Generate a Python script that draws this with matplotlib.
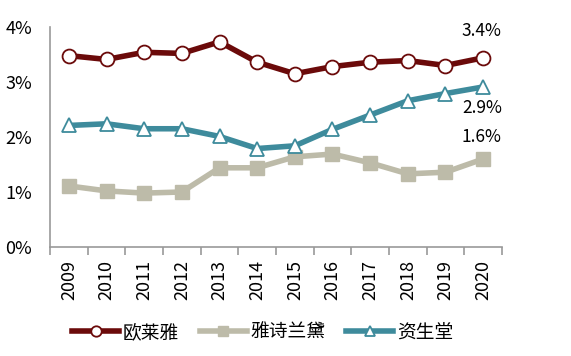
import matplotlib.pyplot as plt
import numpy as np
from matplotlib.ticker import FuncFormatter

plt.rcParams['font.family'] = ['Noto Sans CJK SC', 'DejaVu Sans']

years = ['2009', '2010', '2011', '2012', '2013', '2014',
         '2015', '2016', '2017', '2018', '2019', '2020']
loreal = [3.48, 3.41, 3.54, 3.52, 3.73, 3.36, 3.15, 3.28, 3.36, 3.39, 3.30, 3.44]
estee = [1.11, 1.02, 0.98, 1.00, 1.44, 1.44, 1.64, 1.69, 1.53, 1.33, 1.36, 1.60]
shiseido = [2.21, 2.24, 2.15, 2.15, 2.01, 1.79, 1.84, 2.14, 2.40, 2.66, 2.79, 2.91]
names = ['欧莱雅', '雅诗兰黛', '资生堂']
end_labels = ['3.4%', '1.6%', '2.9%']

fig = plt.figure(figsize=(5.71, 3.56), dpi=100)
ax = fig.add_axes([50/571, 109/356, 452/571, 220/356])

x = np.arange(len(years))
ax.plot(x, loreal, color='#6B0A0A', lw=4, marker='o', ms=10,
        mfc='white', mec='#6B0A0A', mew=1.3, label=names[0], zorder=4)
ax.plot(x, estee, color='#BDBBA9', lw=4, marker='s', ms=10,
        mfc='#BDBBA9', mec='#BDBBA9', label=names[1], zorder=2)
ax.plot(x, shiseido, color='#3E8B9C', lw=4, marker='^', ms=10,
        mfc='white', mec='#3E8B9C', mew=1.3, label=names[2], zorder=3)

# 末端数据标签
ax.annotate(end_labels[0], (x[-1], loreal[-1]), xytext=(-1, 13),
            textcoords='offset points', ha='center', va='bottom', fontsize=12.5)
ax.annotate(end_labels[2], (x[-1], shiseido[-1]), xytext=(-1, -9),
            textcoords='offset points', ha='center', va='top', fontsize=12.5)
ax.annotate(end_labels[1], (x[-1], estee[-1]), xytext=(-1, 9),
            textcoords='offset points', ha='center', va='bottom', fontsize=12.5)

ax.set_xlim(-0.5, len(years) - 0.5)
ax.set_ylim(0, 4)
ax.set_yticks([0, 1, 2, 3, 4])
ax.yaxis.set_major_formatter(FuncFormatter(lambda v, p: '%d%%' % v))
ax.set_xticks(x)
ax.set_xticklabels(years, rotation=90)
ax.set_xticks(np.arange(-0.5, len(years)), minor=True)
ax.tick_params(axis='x', which='major', length=0, pad=9, labelsize=13)
ax.tick_params(axis='x', which='minor', length=6, color='#999999', width=1.2)
ax.tick_params(axis='y', length=0, pad=13, labelsize=13)

ax.spines['right'].set_visible(False)
ax.spines['top'].set_visible(False)
ax.spines['left'].set_color('#999999')
ax.spines['bottom'].set_color('#999999')
ax.spines['left'].set_linewidth(1.2)
ax.spines['bottom'].set_linewidth(1.2)

fig.legend(loc='lower center', bbox_to_anchor=(0.46, -0.01), ncol=3, frameon=False,
           fontsize=13.5, handlelength=2.5, columnspacing=1.1, handletextpad=0.2,
           markerscale=0.75)

fig.savefig('out.png', dpi=100)
